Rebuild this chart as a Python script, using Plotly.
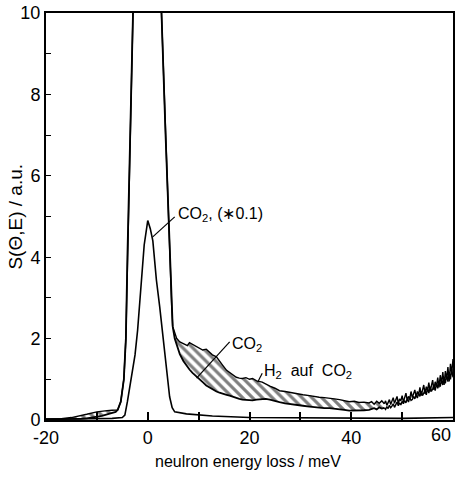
import plotly.graph_objects as go

# ---------------- data ----------------
# left wing, hatched between CO2 and H2 auf CO2
energy_left = [-20, -17, -15, -13.3, -12, -10, -9, -8, -7, -6.3]
co2_left    = [0.02, 0.02, 0.02, 0.03, 0.04, 0.07, 0.10, 0.14, 0.17, 0.20]
h2co2_left  = [0.02, 0.03, 0.06, 0.10, 0.14, 0.20, 0.22, 0.23, 0.24, 0.24]

# elastic peak (both curves coincide; goes off scale)
energy_peak = [-5.9, -5.3, -4.7, -4.3, -4.0, -3.6, -2.9, 0, 2.7, 3.5, 4.1, 4.4, 4.7, 4.9]
co2_peak    = [0.25, 0.45, 1.0, 2.0, 4.0, 6.0, 10, 49, 10, 7, 5, 3.6, 2.8, 2.3]

# inelastic tail (hatched difference)
energy_tail = [5.3, 5.7, 6.3, 7.0, 7.8, 8.2, 8.8, 9.6, 10.2, 10.8, 11.5, 12.1, 12.7, 13.5,
               14.1, 14.7, 15.5, 16.1, 16.7, 17.4, 18.0, 18.6, 19.3, 20.0, 20.6, 21.4,
               22.5, 23.2, 24.0, 25.0, 25.9, 27.0, 27.8, 29.2, 30.5, 31.8, 32.8, 33.7,
               34.7, 35.7, 36.7, 37.7, 38.6, 39.6, 40.6, 41.5, 42.5, 43.5,
               44.0, 44.5, 45.0, 45.5, 46.0, 46.5]
co2_tail = [2.0, 1.85, 1.62, 1.45, 1.30, 1.24, 1.16, 1.06, 0.99, 0.93, 0.85, 0.80, 0.75, 0.70,
            0.67, 0.64, 0.62, 0.60, 0.57, 0.54, 0.52, 0.50, 0.49, 0.49, 0.48, 0.50,
            0.51, 0.52, 0.50, 0.46, 0.44, 0.41, 0.40, 0.38, 0.35, 0.33, 0.31, 0.30,
            0.29, 0.29, 0.28, 0.27, 0.25, 0.23, 0.23, 0.24, 0.24, 0.25,
            0.27, 0.29, 0.26, 0.31, 0.28, 0.30]
h2co2_tail = [2.15, 2.0, 1.92, 1.87, 1.83, 1.90, 1.86, 1.80, 1.76, 1.72, 1.74, 1.66, 1.60, 1.55,
              1.44, 1.35, 1.22, 1.16, 1.12, 1.05, 1.03, 1.02, 1.04, 1.00, 1.02, 0.96,
              0.93, 0.88, 0.83, 0.78, 0.72, 0.70, 0.68, 0.64, 0.62, 0.60, 0.57, 0.56,
              0.55, 0.54, 0.52, 0.50, 0.47, 0.45, 0.46, 0.43, 0.44, 0.42,
              0.45, 0.39, 0.46, 0.41, 0.47, 0.40]

# noisy high-energy end (no hatching)
energy_noise = [46.5, 46.75, 47.0, 47.25, 47.5, 47.75, 48.0, 48.25, 48.5, 48.75, 49.0, 49.25,
                49.5, 49.75, 50.0, 50.25, 50.5, 50.75, 51.0, 51.25, 51.5, 51.75, 52.0, 52.25,
                52.5, 52.75, 53.0, 53.25, 53.5, 53.75, 54.0, 54.25, 54.5, 54.75, 55.0, 55.25,
                55.5, 55.75, 56.0, 56.25, 56.5, 56.75, 57.0, 57.25, 57.5, 57.75, 58.0, 58.25,
                58.5, 58.75, 59.0, 59.25, 59.5, 59.75, 60.0]
h2co2_noise = [0.40, 0.47, 0.36, 0.44, 0.50, 0.38, 0.46, 0.55, 0.41, 0.49, 0.58, 0.40,
               0.52, 0.47, 0.60, 0.44, 0.56, 0.66, 0.48, 0.58, 0.52, 0.70, 0.55, 0.64,
               0.74, 0.56, 0.70, 0.62, 0.80, 0.60, 0.76, 0.86, 0.64, 0.82, 0.72, 0.92,
               0.70, 0.88, 0.98, 0.74, 0.94, 0.82, 1.04, 0.80, 1.10, 0.90, 1.18, 0.86,
               1.20, 1.00, 1.30, 0.95, 1.38, 1.15, 1.50]
co2_noise = [0.30, 0.26, 0.33, 0.28, 0.36, 0.30, 0.34, 0.40, 0.31, 0.38, 0.44, 0.35,
             0.42, 0.37, 0.46, 0.40, 0.48, 0.42, 0.52, 0.44, 0.56, 0.48, 0.50, 0.58,
             0.52, 0.62, 0.54, 0.66, 0.58, 0.70, 0.60, 0.66, 0.74, 0.62, 0.78, 0.66,
             0.82, 0.70, 0.76, 0.86, 0.72, 0.90, 0.78, 0.95, 0.82, 1.00, 0.86, 1.05,
             0.90, 1.12, 0.94, 1.18, 1.00, 1.25, 1.05]

# CO2 scaled by 0.1
energy_scaled = [-20, -10, -7, -5.0, -4.5, -4.0, -3.5, -3.0, -2.5, -2.0, -1.3, -0.7, 0.0,
                 0.5, 1.0, 1.7, 2.35, 3.0, 3.7, 4.3, 4.8, 5.3, 7.6, 12.7, 20, 30, 40, 50, 60]
co2_scaled    = [0.02, 0.03, 0.04, 0.06, 0.12, 0.45, 0.85, 1.2, 1.6, 2.2, 3.3, 4.3, 4.9,
                 4.7, 4.4, 3.44, 2.78, 2.0, 1.3, 0.57, 0.30, 0.20, 0.15, 0.10, 0.06,
                 0.05, 0.04, 0.04, 0.06]

x_ticks = [-20, -10, 0, 10, 20, 30, 40, 50, 60]
x_ticktext = ["-20", "", "0", "", "20", "", "40", "", ""]
last_x_label = "60"   # drawn slightly inset so it is not cut by the page edge
y_ticks = [0, 2, 4, 6, 8, 10]
y_ticktext = ["0", "2", "4", "6", "8", "10"]

energy_all = energy_left + energy_peak + energy_tail
co2_all = co2_left + co2_peak + co2_tail
h2co2_all = h2co2_left + co2_peak + h2co2_tail

# ---------------- figure ----------------
fig = go.Figure()
fig.add_trace(go.Scatter(x=energy_all, y=co2_all, mode="lines",
                         line=dict(color="black", width=1.8), name="CO2"))
fig.add_trace(go.Scatter(x=energy_all, y=h2co2_all, mode="lines",
                         line=dict(color="black", width=1.4), name="H2 auf CO2",
                         fill="tonexty", fillcolor="rgba(0,0,0,0)",
                         fillpattern=dict(shape="\\", fgcolor="black",
                                          bgcolor="rgba(0,0,0,0)", size=7,
                                          solidity=0.45)))
fig.add_trace(go.Scatter(x=energy_noise, y=co2_noise, mode="lines",
                         line=dict(color="black", width=1.4), name="CO2 noise"))
fig.add_trace(go.Scatter(x=energy_noise, y=h2co2_noise, mode="lines",
                         line=dict(color="black", width=1.4), name="H2 auf CO2 noise"))
fig.add_trace(go.Scatter(x=energy_scaled, y=co2_scaled, mode="lines",
                         line=dict(color="black", width=1.6), name="CO2 (*0.1)"))

ann_font = dict(family="Liberation Sans, Arial, sans-serif", size=16, color="black")
fig.add_annotation(x=5.5, y=5.05, xref="x", yref="y", text="CO<sub>2</sub>, (∗0.1)",
                   showarrow=False, xanchor="left", yanchor="middle", font=ann_font)
fig.add_annotation(x=16.1, y=1.85, xref="x", yref="y", text="CO<sub>2</sub>",
                   showarrow=False, xanchor="left", yanchor="middle", font=ann_font)
fig.add_annotation(x=22.4, y=1.18, xref="x", yref="y", text="H<sub>2</sub>  auf  CO<sub>2</sub>",
                   showarrow=False, xanchor="left", yanchor="middle", font=ann_font)

line_style = dict(color="black", width=1.2)
fig.add_shape(type="line", x0=5.3, y0=4.99, x1=0.98, y1=4.5, xref="x", yref="y", line=line_style)
fig.add_shape(type="line", x0=16.1, y0=1.92, x1=9.6, y1=1.03, xref="x", yref="y", line=line_style)
fig.add_shape(type="line", x0=22.5, y0=1.15, x1=21.6, y1=0.93, xref="x", yref="y", line=line_style)

tick_font = dict(family="Liberation Sans, Arial, sans-serif", size=18, color="black")
fig.add_annotation(x=1.0, y=0, xref="paper", yref="paper", text=last_x_label,
                   showarrow=False, xanchor="right", yanchor="top", yshift=-3,
                   font=tick_font)

title_font = dict(family="Liberation Sans, Arial, sans-serif", size=16, color="black")
fig.add_annotation(x=0.497, y=-0.103, xref="paper", yref="paper",
                   text="neulron energy loss / meV", showarrow=False,
                   xanchor="center", yanchor="middle", font=title_font)
fig.add_annotation(x=-0.076, y=0.5, xref="paper", yref="paper",
                   text="S(Θ,E) / a.u.", showarrow=False, textangle=-90,
                   xanchor="center", yanchor="middle",
                   font=dict(family=title_font["family"], size=19, color="black"))

fig.update_layout(
    width=460, height=479,
    margin=dict(l=46, r=7, t=13, b=59, autoexpand=False),
    paper_bgcolor="white", plot_bgcolor="white",
    showlegend=False,
    xaxis=dict(range=[-20, 60], tickvals=x_ticks, ticktext=x_ticktext,
               ticks="inside", ticklen=8, tickwidth=1.5, tickcolor="black",
               showline=True, linecolor="black", linewidth=2, mirror=True,
               showgrid=False, zeroline=False, tickfont=tick_font, automargin=False,
               ticklabeloverflow="allow"),
    yaxis=dict(range=[0, 10], tickvals=y_ticks, ticktext=y_ticktext,
               ticks="inside", ticklen=5, tickwidth=1.2, tickcolor="black",
               minor=dict(ticks="inside", ticklen=5, dtick=1, tickcolor="black"),
               showline=True, linecolor="black", linewidth=2, mirror=True,
               showgrid=False, zeroline=False, tickfont=tick_font, automargin=False,
               ticklabeloverflow="allow"),
)

fig.write_html("out.html", config={"displayModeBar": False},
               post_script="document.body.style.margin='0';document.body.style.padding='0';")
